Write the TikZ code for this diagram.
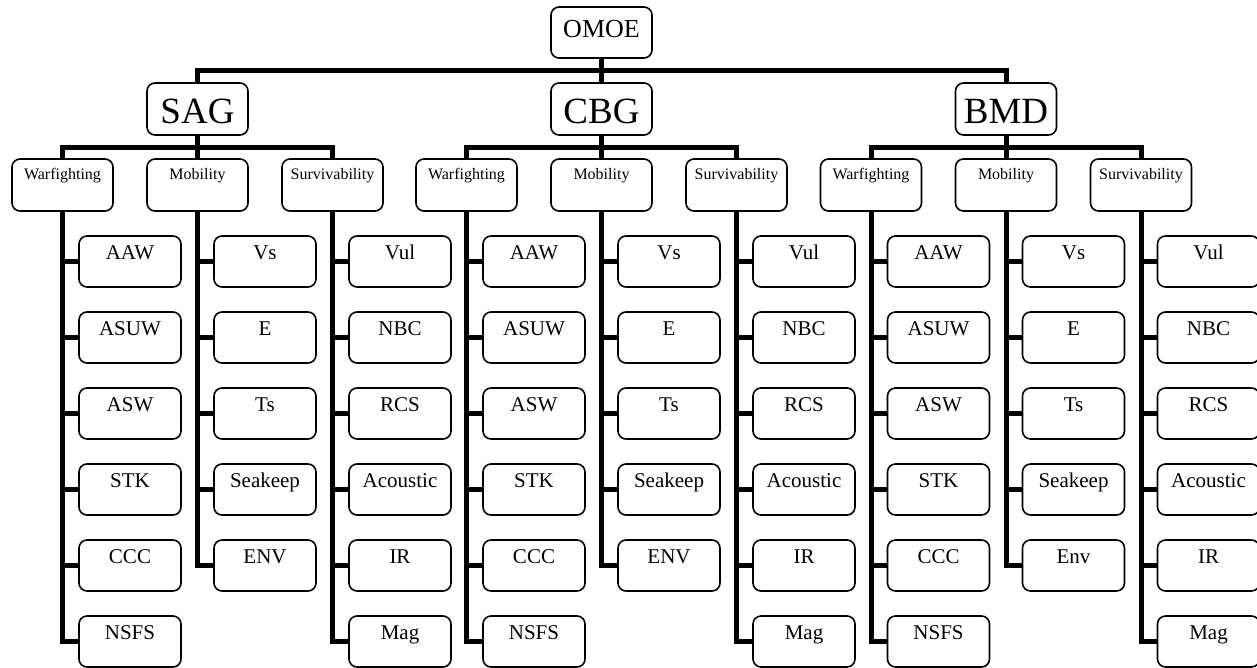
\documentclass[tikz,border=0pt]{standalone}
\usepackage{fontspec}
\setmainfont{Liberation Serif}
\usetikzlibrary{calc}
\tikzset{
  box/.style={draw, line width=1.6pt, rounded corners=8pt, inner sep=0pt, minimum width=101pt, align=center},
  topbox/.style={box, font=\fontsize{26}{28}\selectfont, text height=30pt, text depth=21pt},
  grpbox/.style={box, font=\fontsize{37}{40}\selectfont, text height=40pt, text depth=12pt},
  catbox/.style={box, font=\fontsize{16}{18}\selectfont, text height=20pt, text depth=32pt},
  leafbox/.style={box, minimum width=102pt, font=\fontsize{21}{24}\selectfont, text height=23pt, text depth=28pt},
  conn/.style={line width=5pt, line join=miter},
}
\newcommand\mkgroup[4]{%
  \node[grpbox] (#1) at (#2,109) {#3};
  \node[catbox] (#1w) at (#2-135,185) {Warfighting};
  \node[catbox] (#1m) at (#2,185) {Mobility};
  \node[catbox] (#1s) at (#2+135,185) {Survivability};
  \draw[conn] (#1.south) -- (#1m.north);
  \draw[conn] (#1w.north) |- ($(#1.south)!.5!(#1m.north)$) -| (#1s.north);
  \foreach \t [count=\i] in {AAW,ASUW,ASW,STK,CCC,NSFS}
    \node[leafbox] (#1wl\i) at (#2-135+67.5,261.5+76*\i-76) {\t};
  \foreach \t [count=\i] in {Vs,E,Ts,Seakeep,#4}
    \node[leafbox] (#1ml\i) at (#2+67.5,261.5+76*\i-76) {\t};
  \foreach \t [count=\i] in {Vul,NBC,RCS,Acoustic,IR,Mag}
    \node[leafbox] (#1sl\i) at (#2+135+67.5,261.5+76*\i-76) {\t};
  \draw[conn] (#1w.south) |- (#1wl6.west);
  \foreach \i in {1,...,5} \draw[conn] (#1w.south |- #1wl\i.west) -- (#1wl\i.west);
  \draw[conn] (#1m.south) |- (#1ml5.west);
  \foreach \i in {1,...,4} \draw[conn] (#1m.south |- #1ml\i.west) -- (#1ml\i.west);
  \draw[conn] (#1s.south) |- (#1sl6.west);
  \foreach \i in {1,...,5} \draw[conn] (#1s.south |- #1sl\i.west) -- (#1sl\i.west);
}
\begin{document}
\begin{tikzpicture}[x=1pt,y=-1pt]
\useasboundingbox (0,0) rectangle (1257,667);
\node[topbox] (omoe) at (601.5,32.5) {OMOE};
\mkgroup{SAG}{197.5}{SAG}{ENV}
\mkgroup{CBG}{601.5}{CBG}{ENV}
\mkgroup{BMD}{1006}{BMD}{Env}
\draw[conn] (SAG.north) |- ($(omoe.south)!.5!(CBG.north)$) -| (BMD.north);
\draw[conn] (omoe.south) -- (CBG.north);
\end{tikzpicture}
\end{document}
